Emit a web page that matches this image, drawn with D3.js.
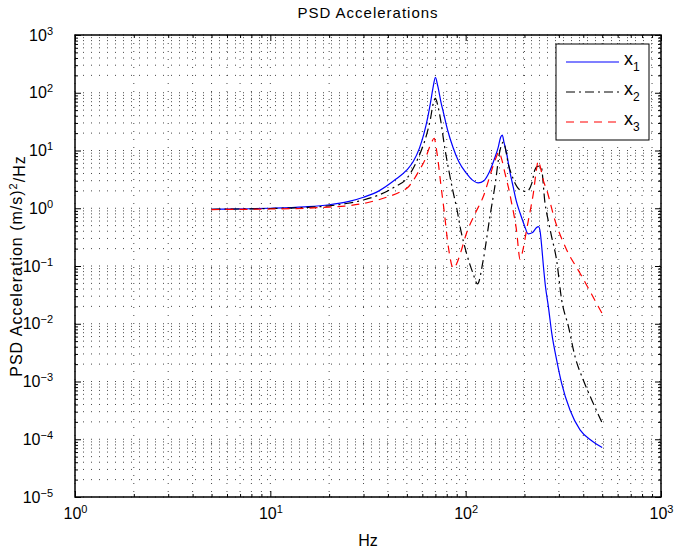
<!DOCTYPE html>
<html>
<head>
<meta charset="utf-8">
<script src="https://cdn.jsdelivr.net/npm/d3@7"></script>
<style>
  body { margin: 0; background: #fff; }
  text { font-family: "Liberation Sans", Arial, Helvetica, sans-serif; }
</style>
</head>
<body>
<div id="chart"></div>
<script>
// values (Hz, PSD)
const x1Freq = [5, 8, 10, 15, 20, 25, 30, 36, 44, 50, 54, 58, 61, 64, 66, 68, 70, 72, 75, 77, 81, 86, 92, 101, 108, 116, 124, 132, 140, 147, 151, 154, 157, 162, 168, 175, 182, 190, 200, 209, 220, 230, 236, 241, 245, 250, 256, 265, 276, 292, 310, 342, 385, 440, 500];
const x1Psd = [0.96, 0.98, 1.0, 1.06, 1.15, 1.3, 1.55, 2.0, 3.2, 4.6, 6.5, 11, 19, 38, 66, 120, 185, 130, 65, 45, 22, 11.5, 6.5, 4.0, 3.1, 2.75, 3.0, 4.2, 7, 11.6, 17, 18.5, 14, 8.9, 4.5, 2.36, 1.3, 0.82, 0.5, 0.36, 0.38, 0.46, 0.48, 0.38, 0.22, 0.1, 0.045, 0.02, 0.0068, 0.0024, 0.00093, 0.00032, 0.000145, 0.000095, 0.000072];

const x2Freq = [5, 10, 15, 20, 25, 30, 36, 43, 50, 57, 63, 66, 68, 70, 72, 74, 78, 82, 86, 90, 94, 101, 109, 115, 123, 133, 141, 150, 156, 161, 165, 172, 179, 190, 205, 218, 226, 233, 243, 255, 265, 275, 292, 310, 336, 363, 400, 442, 500];
const x2Psd = [0.96, 0.99, 1.03, 1.1, 1.22, 1.39, 1.7, 2.3, 3.3, 7.3, 18.5, 35, 62, 80, 60, 38, 11.6, 4.5, 2.0, 1.0, 0.45, 0.166, 0.075, 0.049, 0.127, 0.71, 2.36, 10.2, 14, 9.5, 6.0, 3.8, 2.7, 2.07, 1.95, 2.7, 4.6, 5.3, 5.4, 1.2, 0.6, 0.33, 0.127, 0.026, 0.0089, 0.0027, 0.00106, 0.00048, 0.00019];

const x3Freq = [5, 10, 15, 20, 24, 32, 40, 46, 51, 58, 62, 64.5, 67, 69, 71, 72.5, 74.5, 77.5, 81.5, 86.5, 90, 94, 101, 112, 123, 136, 143, 148, 153, 159, 166, 172, 182, 190, 197, 205, 214, 222, 230, 235, 240, 250, 260, 286, 329, 385, 440, 500];
const x3Psd = [0.95, 0.97, 1.0, 1.05, 1.09, 1.27, 1.58, 1.9, 2.36, 4.6, 7, 10.2, 14, 16.3, 10, 6, 2.7, 0.93, 0.216, 0.091, 0.11, 0.166, 0.37, 0.82, 1.58, 4.6, 7.5, 9.5, 7, 4.0, 2.2, 1.22, 0.42, 0.13, 0.2, 0.42, 0.9, 1.8, 4.5, 6.6, 5.5, 3.0, 2.07, 0.63, 0.19, 0.075, 0.033, 0.015];

const xTickVals = [1, 10, 100, 1000];
const yTickVals = [1e-5, 1e-4, 1e-3, 1e-2, 1e-1, 1, 10, 100, 1000];
const seriesNames = ["1", "2", "3"];

// set the dimensions and margins of the graph
const margin = {top: 35, right: 15, bottom: 55, left: 75},
  width = 676 - margin.left - margin.right,
  height = 552 - margin.top - margin.bottom;

const svg = d3.select("#chart")
  .append("svg")
    .attr("width", 676)
    .attr("height", 552)
  .append("g")
    .attr("transform", `translate(${margin.left}, ${margin.top})`);

const x = d3.scaleLog().domain([1, 1000]).range([0, width]);
const y = d3.scaleLog().domain([1e-5, 1000]).range([height, 0]);

// minor positions: 2..9 times each decade
function minors(ticks) {
  const out = [];
  ticks.slice(0, -1).forEach(t => { for (let k = 2; k <= 9; k++) out.push(k * t); });
  return out;
}
const xMinor = minors(xTickVals);
const yMinor = minors(yTickVals);

// dotted grid
const grid = svg.append("g")
  .attr("stroke", "#333")
  .attr("stroke-width", 0.9)
  .attr("stroke-dasharray", "1,7");
grid.selectAll(".vg")
  .data(xTickVals.concat(xMinor))
  .join("line")
    .attr("x1", d => x(d)).attr("x2", d => x(d))
    .attr("y1", 0).attr("y2", height);
grid.selectAll(".hg")
  .data(yTickVals.concat(yMinor))
  .join("line")
    .attr("y1", d => y(d)).attr("y2", d => y(d))
    .attr("x1", 0).attr("x2", width);

// lines
svg.append("clipPath").attr("id", "clip")
  .append("rect").attr("width", width).attr("height", height);

const line = d3.line()
  .x(d => x(d[0]))
  .y(d => y(d[1]))
  .curve(d3.curveMonotoneX);

const series = [
  {name: seriesNames[0], f: x1Freq, v: x1Psd, color: "#0000ff", dash: null},
  {name: seriesNames[1], f: x2Freq, v: x2Psd, color: "#000000", dash: "9,4,2,4"},
  {name: seriesNames[2], f: x3Freq, v: x3Psd, color: "#ff0000", dash: "8,6"}
];

svg.append("g")
  .attr("clip-path", "url(#clip)")
  .selectAll("path")
  .data(series)
  .join("path")
    .attr("fill", "none")
    .attr("stroke", d => d.color)
    .attr("stroke-width", 1.2)
    .attr("stroke-dasharray", d => d.dash)
    .attr("d", d => line(d.f.map((f, i) => [f, d.v[i]])));

// power-of-ten labels
function powLabel(sel) {
  sel.each(function(d) {
    const e = Math.round(Math.log10(d));
    const t = d3.select(this).text(null);
    t.append("tspan").text("10");
    t.append("tspan")
      .attr("dy", "-0.55em")
      .attr("font-size", "11px")
      .text(e < 0 ? "\u2212" + (-e) : e);
  });
}

// axes with inward ticks on all sides
function styleAxis(g) {
  g.select(".domain").remove();
  g.selectAll("line").attr("stroke", "#000");
  g.selectAll("text").attr("font-size", "16px").attr("fill", "#000");
}

svg.append("g")
  .attr("transform", `translate(0, ${height})`)
  .call(d3.axisBottom(x).tickValues(xTickVals).tickSizeInner(-6).tickSizeOuter(0).tickPadding(11))
  .call(styleAxis)
  .selectAll("text").call(powLabel);
svg.append("g")
  .attr("transform", `translate(0, ${height})`)
  .call(d3.axisBottom(x).tickValues(xMinor).tickSizeInner(-3).tickSizeOuter(0).tickFormat(""))
  .call(styleAxis);
svg.append("g")
  .call(d3.axisTop(x).tickValues(xTickVals).tickSizeInner(-6).tickSizeOuter(0).tickFormat(""))
  .call(styleAxis);
svg.append("g")
  .call(d3.axisTop(x).tickValues(xMinor).tickSizeInner(-3).tickSizeOuter(0).tickFormat(""))
  .call(styleAxis);

svg.append("g")
  .call(d3.axisLeft(y).tickValues(yTickVals).tickSizeInner(-6).tickSizeOuter(0).tickPadding(22))
  .call(styleAxis)
  .selectAll("text").call(powLabel);
svg.append("g")
  .call(d3.axisLeft(y).tickValues(yMinor).tickSizeInner(-3).tickSizeOuter(0).tickFormat(""))
  .call(styleAxis);
svg.append("g")
  .attr("transform", `translate(${width}, 0)`)
  .call(d3.axisRight(y).tickValues(yTickVals).tickSizeInner(-6).tickSizeOuter(0).tickFormat(""))
  .call(styleAxis);
svg.append("g")
  .attr("transform", `translate(${width}, 0)`)
  .call(d3.axisRight(y).tickValues(yMinor).tickSizeInner(-3).tickSizeOuter(0).tickFormat(""))
  .call(styleAxis);

// box
svg.append("rect")
  .attr("width", width).attr("height", height)
  .attr("fill", "none").attr("stroke", "#000").attr("stroke-width", 1.5);

// title and axis labels
svg.append("text")
  .attr("x", width / 2).attr("y", -17)
  .attr("text-anchor", "middle")
  .attr("font-size", "15px")
  .attr("letter-spacing", "1px")
  .text("PSD Accelerations");

svg.append("text")
  .attr("x", width / 2).attr("y", height + 49)
  .attr("text-anchor", "middle")
  .attr("font-size", "16px")
  .text("Hz");

const yl = svg.append("text")
  .attr("transform", `translate(${-53}, ${height / 2}) rotate(-90)`)
  .attr("text-anchor", "middle")
  .attr("font-size", "16px")
  .attr("letter-spacing", "1px");
yl.append("tspan").text("PSD Acceleration (m/s)");
yl.append("tspan").attr("dy", "-0.5em").attr("font-size", "11px").text("2");
yl.append("tspan").attr("dy", "0.5em").text("/Hz");

// legend
const lg = svg.append("g")
  .attr("transform", `translate(${556 - margin.left}, ${44 - margin.top})`);
lg.append("rect")
  .attr("width", 93).attr("height", 96)
  .attr("fill", "#fff").attr("stroke", "#000").attr("stroke-width", 1);
const items = lg.selectAll(".item")
  .data(series)
  .join("g")
    .attr("transform", (d, i) => `translate(0, ${18 + i * 30})`);
items.append("line")
  .attr("x1", 10).attr("x2", 63)
  .attr("stroke", d => d.color)
  .attr("stroke-width", 1.2)
  .attr("stroke-dasharray", d => d.dash);
const lt = items.append("text")
  .attr("x", 68).attr("y", 3)
  .attr("font-size", "18px");
lt.append("tspan").text("x");
lt.append("tspan").attr("dy", "0.5em").attr("font-size", "12px").text(d => d.name);
</script>
</body>
</html>
